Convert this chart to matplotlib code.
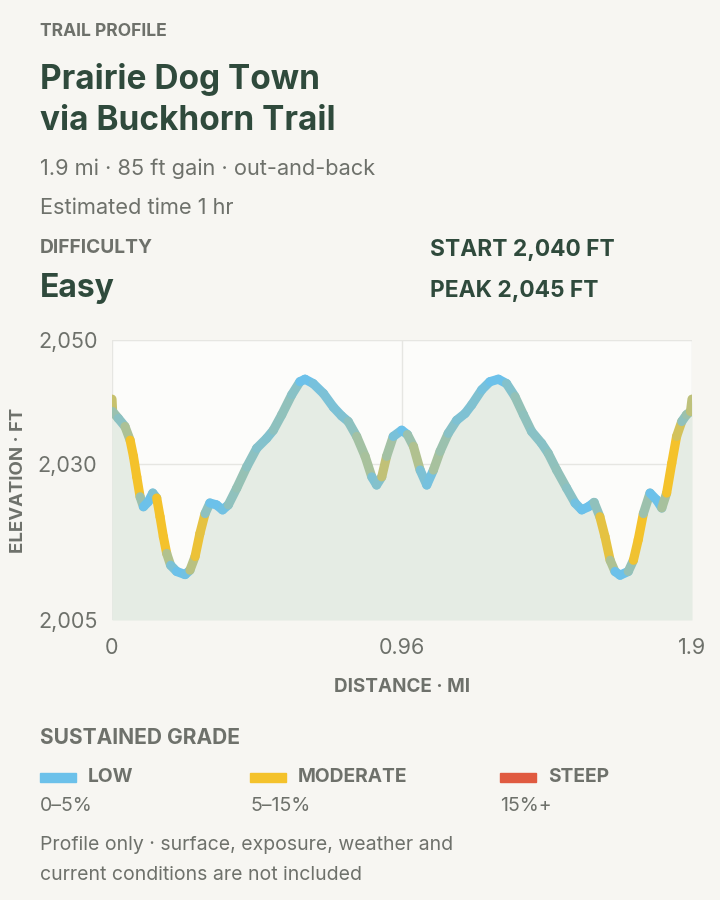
import numpy as np
import matplotlib
matplotlib.use("Agg")
import matplotlib.pyplot as plt
from matplotlib.collections import LineCollection
from matplotlib.colors import LinearSegmentedColormap, Normalize
from matplotlib.patches import Rectangle

distance = [0.0, 0.002, 0.021, 0.043, 0.060, 0.071, 0.082, 0.093, 0.104, 0.120,
            0.135, 0.148, 0.159, 0.170, 0.181, 0.194, 0.214, 0.242, 0.258, 0.275,
            0.291, 0.308, 0.324, 0.346, 0.366, 0.385, 0.413, 0.446, 0.479, 0.512,
            0.534, 0.562, 0.595, 0.622, 0.639, 0.666, 0.700, 0.733, 0.760, 0.782,
            0.810, 0.838, 0.860, 0.876, 0.893, 0.909, 0.931, 0.959, 0.978, 0.998,
            1.020, 1.042, 1.064, 1.086, 1.113, 1.141, 1.169, 1.191, 1.224, 1.251,
            1.279, 1.306, 1.334, 1.362, 1.389, 1.422, 1.444, 1.472, 1.505, 1.533,
            1.555, 1.577, 1.596, 1.615, 1.632, 1.649, 1.665, 1.682, 1.709, 1.726,
            1.742, 1.759, 1.781, 1.803, 1.820, 1.836, 1.853, 1.869, 1.886, 1.902,
            1.915, 1.920]
elevation = [2040.5, 2038.5, 2037.4, 2036.1, 2033.9, 2031.3, 2028.0, 2024.8, 2023.2, 2024.0,
             2025.4, 2024.6, 2021.6, 2018.4, 2015.7, 2013.8, 2012.8, 2012.3, 2013.0, 2015.2,
             2018.9, 2022.1, 2023.8, 2023.5, 2022.7, 2023.5, 2026.2, 2029.6, 2032.6, 2034.2,
             2035.5, 2038.0, 2041.2, 2043.3, 2043.7, 2043.0, 2041.4, 2039.2, 2037.8, 2036.9,
             2034.5, 2031.3, 2028.0, 2026.7, 2028.0, 2031.3, 2034.5, 2035.5, 2034.8, 2032.9,
             2029.1, 2026.7, 2029.1, 2032.1, 2035.0, 2037.1, 2038.2, 2039.6, 2042.0, 2043.3,
             2043.7, 2043.0, 2040.9, 2038.0, 2035.3, 2033.4, 2031.8, 2029.1, 2026.2, 2023.8,
             2022.7, 2023.2, 2023.9, 2021.6, 2018.4, 2014.6, 2012.8, 2012.2, 2012.8, 2014.6,
             2017.9, 2022.1, 2025.4, 2024.3, 2023.0, 2025.4, 2030.2, 2034.5, 2036.9, 2038.0,
             2038.5, 2040.5]

x_ticks = [0, 0.96, 1.92]
x_tick_labels = ["0", "0.96", "1.9"]
y_ticks = [2005, 2030, 2050]
y_tick_labels = ["2,005", "2,030", "2,050"]

grade_names = ["LOW", "MODERATE", "STEEP"]
grade_ranges = ["0–5%", "5–15%", "15%+"]
grade_colors = ["#6cc1ea", "#f4c22b", "#e05a40"]

BG = "#f7f6f2"
DARK = "#2f4a3c"
GRAY = "#6e716b"

plt.rcParams["font.family"] = ["Inter", "DejaVu Sans"]

fig = plt.figure(figsize=(7.2, 9), dpi=100, facecolor=BG)


def px(x, y):
    return x / 720, 1 - y / 900


def label(x, y, s, size, color, weight="normal", ha="left"):
    fig.text(*px(x, y), s, fontsize=size, color=color, fontweight=weight,
             ha=ha, va="center")


# cabecalho
label(40, 31, "TRAIL PROFILE", 12.6, GRAY, "bold")
label(40, 79, "Prairie Dog Town", 24, DARK, "bold")
label(40, 121, "via Buckhorn Trail", 24, DARK, "bold")
label(40, 169, "1.9 mi · 85 ft gain · out-and-back", 15.7, GRAY)
label(40, 208, "Estimated time 1 hr", 15.7, GRAY)
label(40, 248, "DIFFICULTY", 13.8, GRAY, "bold")
label(40, 288, "Easy", 23, DARK, "bold")
label(430, 250, "START 2,040 FT", 16.4, DARK, "bold")
label(430, 291, "PEAK 2,045 FT", 16.4, DARK, "bold")

# grafico
ax = fig.add_axes([112 / 720, 1 - 620 / 900, 580 / 720, 280 / 900])
ax.set_facecolor("#fcfcfa")
ax.set_xlim(0, 1.92)
ax.set_ylim(2005, 2050)
for s in ax.spines.values():
    s.set_visible(False)
ax.set_axisbelow(True)
ax.grid(True, color="#e6e6e2", linewidth=1)
ax.set_xticks(x_ticks)
ax.set_xticklabels(x_tick_labels)
ax.set_yticks(y_ticks)
ax.set_yticklabels(y_tick_labels)
ax.tick_params(length=0, labelsize=15.5, labelcolor=GRAY)
ax.tick_params(axis="y", pad=10.5)
ax.tick_params(axis="x", pad=13)
ax.axhline(2050, color="#e6e6e2", linewidth=1.5, zorder=1)

ax.fill_between(distance, elevation, 2005, color="#e5ece4", zorder=2, linewidth=0)

x = np.array(distance)
y = np.array(elevation)
n = len(x)
pts = np.column_stack([x, y]).reshape(-1, 1, 2)
segs = np.concatenate([pts[:-1], pts[1:]], axis=1)
# inclinacao media numa janela de 3 segmentos, para a cor
lo = np.maximum(np.arange(n - 1) - 1, 0)
hi = np.minimum(np.arange(n - 1) + 2, n - 1)
slope = np.abs((y[hi] - y[lo]) / (x[hi] - x[lo]))
cmap = LinearSegmentedColormap.from_list("grade", ["#6cc1ea", "#9fc1a9", "#f4c22b"])
lc = LineCollection(segs, cmap=cmap, norm=Normalize(30, 190), linewidth=6.6,
                    capstyle="round", joinstyle="round", zorder=3)
lc.set_array(slope)
ax.add_collection(lc)

ax.set_xlabel("DISTANCE · MI", fontsize=13.6, color=GRAY, fontweight="bold", labelpad=14)
fig.text(*px(19, 480), "ELEVATION · FT", rotation=90, fontsize=13.4, color=GRAY,
         fontweight="bold", ha="center", va="center")

# legenda
label(40, 738, "SUSTAINED GRADE", 15.1, GRAY, "bold")
for x0, name, rng, col in zip([40, 250, 500], grade_names, grade_ranges, grade_colors):
    fig.add_artist(Rectangle(px(x0, 782), 36 / 720, 9 / 900, color=col,
                             transform=fig.transFigure))
    label(x0 + 48, 777, name, 13.8, GRAY, "bold")
    label(x0, 806, rng, 14, GRAY)

label(40, 845, "Profile only · surface, exposure, weather and", 14, GRAY)
label(40, 875, "current conditions are not included", 14, GRAY)

fig.savefig("out.png", dpi=100, facecolor=BG)
